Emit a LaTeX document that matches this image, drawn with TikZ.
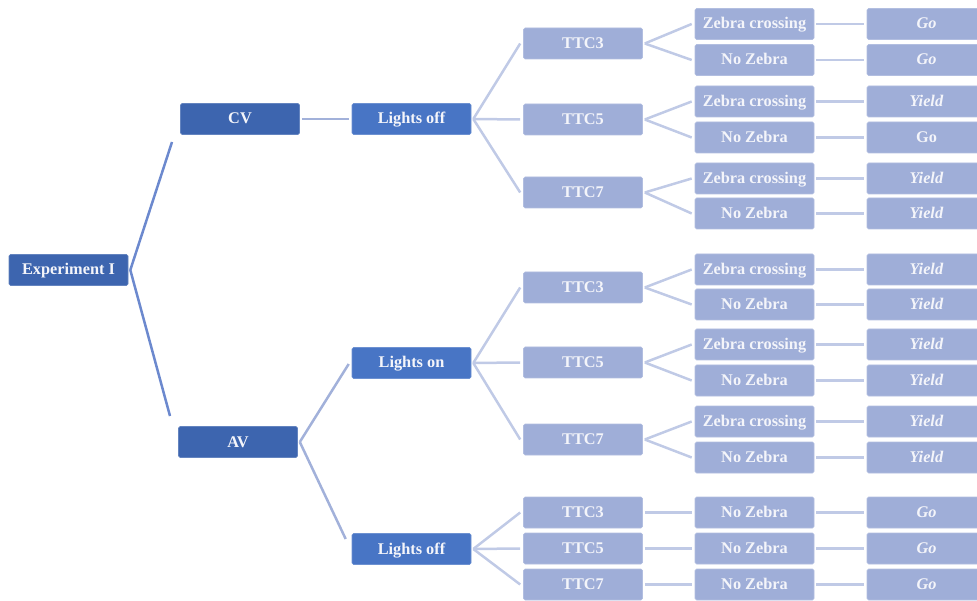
\documentclass[tikz,border=0pt]{standalone}
\usepackage{fontspec}
\setmainfont{Liberation Serif}
\usetikzlibrary{calc}
\definecolor{dk}{HTML}{3D65AF}
\definecolor{md}{HTML}{4875C5}
\definecolor{lt}{HTML}{9FAED8}
\definecolor{lnA}{HTML}{6C89CE}
\definecolor{lnB}{HTML}{A2B1DA}
\definecolor{lnC}{HTML}{C0CAE6}
\definecolor{txt}{HTML}{F4F5FA}
\tikzset{
  box/.style={rectangle, rounded corners=1.5pt, minimum width=119pt, minimum height=31pt,
    inner sep=0pt, text height=12pt, text depth=2pt, text=txt,
    font=\fontsize{16.3}{18}\selectfont\bfseries},
  dkbox/.style={box, fill=dk, draw=dk!80!white, line width=0.6pt},
  mdbox/.style={box, fill=md, draw=md!80!white, line width=0.6pt},
  ltbox/.style={box, fill=lt, draw=lt!80!white, line width=0.6pt},
  lineA/.style={draw=lnA, line width=2.5pt},
  lineB/.style={draw=lnB, line width=2.5pt},
  lineC/.style={draw=lnC, line width=2.5pt},
}
\begin{document}
\begin{tikzpicture}[x=1pt,y=-1pt]
\useasboundingbox (0,0) rectangle (977,601);
% level 0-2
\node[dkbox] (exp) at (68.5,270) {Experiment I};
\node[dkbox] (cv) at (240,119) {CV};
\node[dkbox] (av) at (238,442) {AV};
\node[mdbox] (lo1) at (411.5,119) {Lights off};
\node[mdbox] (lon) at (411.5,363) {Lights on};
\node[mdbox] (lo2) at (411.5,549) {Lights off};
% TTC
\foreach \n/\y/\t in {t1/43.5/TTC3, t2/119.5/TTC5, t3/192.5/TTC7,
  t4/287.5/TTC3, t5/362.5/TTC5, t6/439.5/TTC7,
  t7/512.5/TTC3, t8/548.5/TTC5, t9/584.5/TTC7}
  \node[ltbox] (\n) at (583,\y) {\t};
% zebra and results
\foreach \n/\y/\t/\r in {
  1/24/Zebra crossing/\textit{Go},
  2/60/No Zebra/\textit{Go},
  3/101.5/Zebra crossing/\textit{Yield},
  4/137.5/No Zebra/Go,
  5/178.5/Zebra crossing/\textit{Yield},
  6/213.5/No Zebra/\textit{Yield},
  7/269.5/Zebra crossing/\textit{Yield},
  8/304.5/No Zebra/\textit{Yield},
  9/344.5/Zebra crossing/\textit{Yield},
  10/380.5/No Zebra/\textit{Yield},
  11/421.5/Zebra crossing/\textit{Yield},
  12/457.5/No Zebra/\textit{Yield},
  13/512.5/No Zebra/\textit{Go},
  14/548.5/No Zebra/\textit{Go},
  15/584.5/No Zebra/\textit{Go}}
{
  \node[ltbox] (z\n) at (754.5,\y) {\t};
  \node[ltbox] (r\n) at (926.5,\y) {\r};
  \draw[lineC] ($(z\n.east)+(2,0)$) -- ($(r\n.west)+(-3,0)$);
}
% level 1 connectors
\coordinate (cvin) at (172,142);
\coordinate (avin) at (170,416);
\draw[lineA] ($(exp.east)+(2,0)$) -- (cvin);
\draw[lineA] ($(exp.east)+(2,0)$) -- (avin);
% level 2 connectors
\draw[lineB] ($(cv.east)+(2,0)$) -- ($(lo1.west)+(-3,0)$);
\draw[lineB] ($(av.east)+(2,0)$) -- ($(lon.west)+(-3,1)$);
\draw[lineB] ($(av.east)+(2,0)$) -- ($(lo2.west)+(-6,-10)$);
% level 3 connectors
\foreach \p/\c in {lo1/t1, lo1/t2, lo1/t3, lon/t4, lon/t5, lon/t6, lo2/t7, lo2/t8, lo2/t9}
  \draw[lineC] ($(\p.east)+(2,0)$) -- ($(\c.west)+(-3,0)$);
% level 4 connectors
\foreach \p/\a/\b in {t1/1/2, t2/3/4, t3/5/6, t4/7/8, t5/9/10, t6/11/12}
{
  \draw[lineC] ($(\p.east)+(2,0)$) -- ($(z\a.west)+(-3,0)$);
  \draw[lineC] ($(\p.east)+(2,0)$) -- ($(z\b.west)+(-3,0)$);
}
\foreach \p/\a in {t7/13, t8/14, t9/15}
  \draw[lineC] ($(\p.east)+(2,0)$) -- ($(z\a.west)+(-3,0)$);
\end{tikzpicture}
\end{document}
